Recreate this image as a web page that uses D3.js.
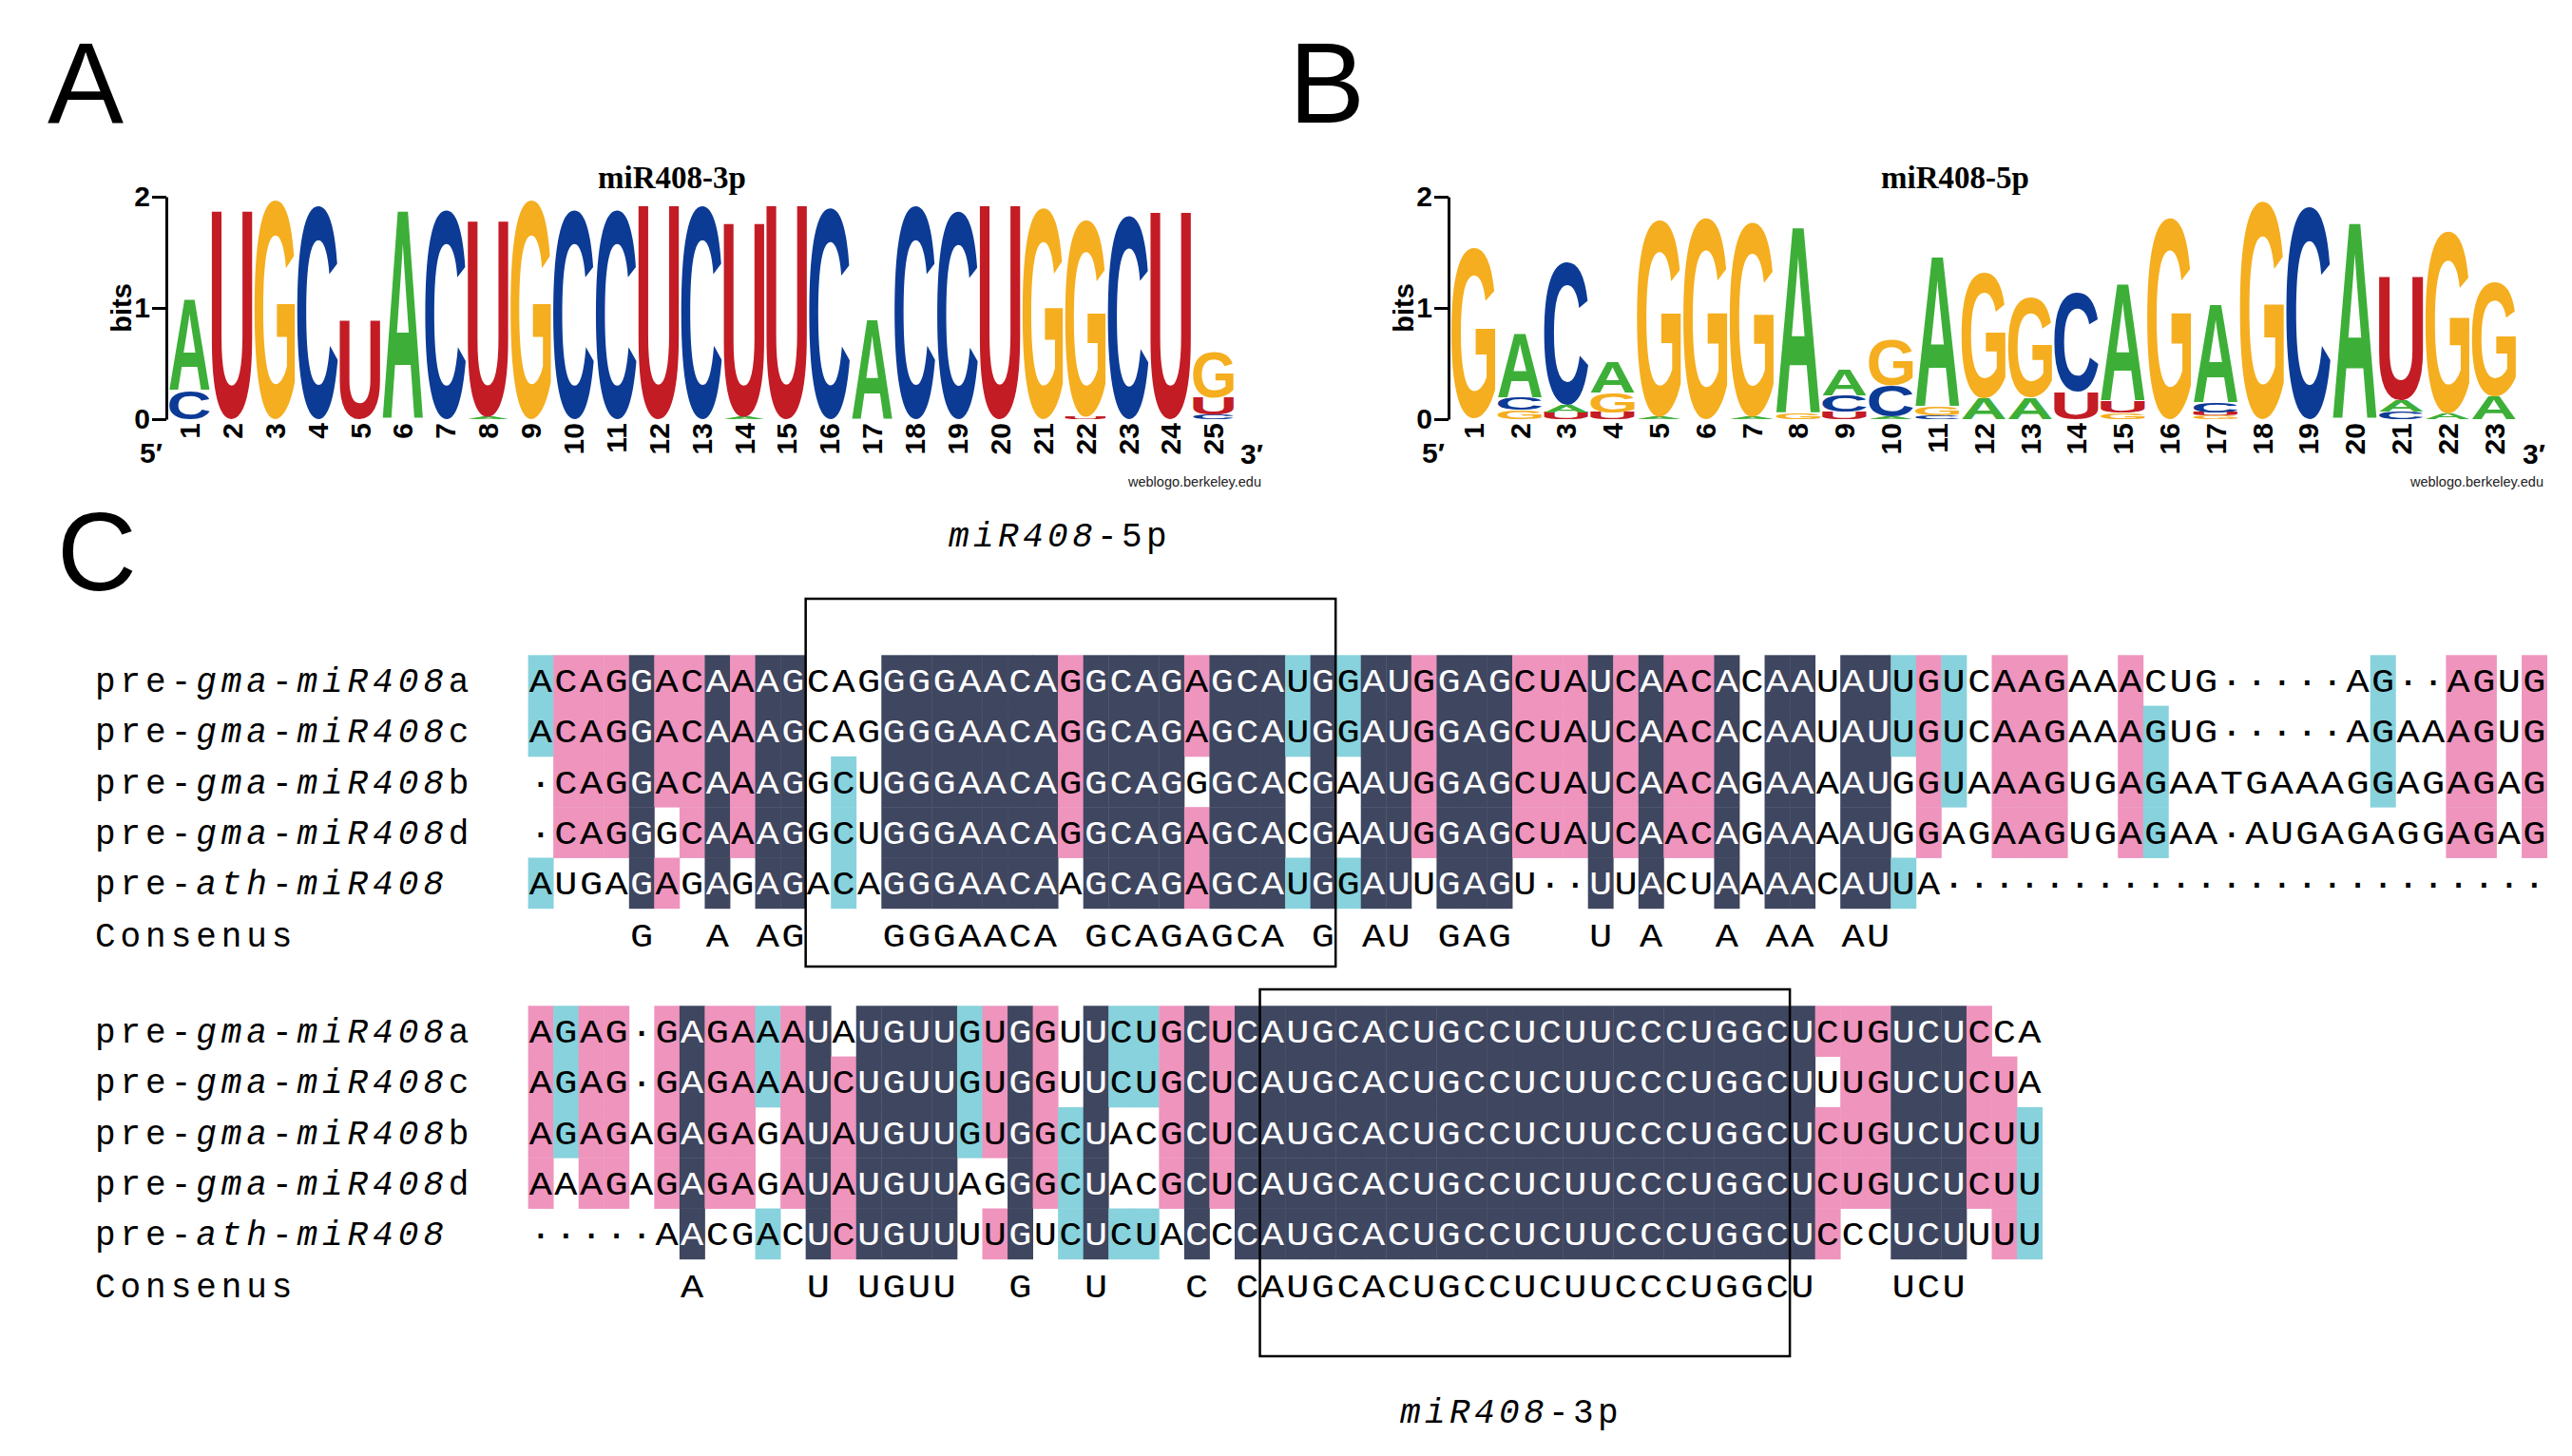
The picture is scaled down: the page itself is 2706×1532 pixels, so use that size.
<!DOCTYPE html>
<html>
<head>
<meta charset="utf-8">
<script src="https://cdn.jsdelivr.net/npm/d3@7/dist/d3.min.js"></script>
<style>
  body { margin: 0; background: #fff; }
</style>
</head>
<body>
<div id="figure"></div>
<script>
// ---------- panel A / B : weblogos (bits per base, stacked bottom -> top) ----------
const logo3pTitle = "miR408-3p";
const logo3p = [
  [["C", 0.26], ["A", 0.82]],
  [["U", 1.87]],
  [["G", 1.97]],
  [["C", 1.92]],
  [["U", 0.89]],
  [["A", 1.87]],
  [["C", 1.88]],
  [["A", 0.02], ["U", 1.76]],
  [["G", 1.97]],
  [["C", 1.88]],
  [["C", 1.88]],
  [["U", 1.92]],
  [["C", 1.92]],
  [["A", 0.02], ["U", 1.74]],
  [["U", 1.92]],
  [["C", 1.90]],
  [["A", 0.89]],
  [["C", 1.92]],
  [["C", 1.87]],
  [["U", 1.92]],
  [["G", 1.90]],
  [["U", 0.02], ["G", 1.77]],
  [["C", 1.83]],
  [["U", 1.86]],
  [["C", 0.04], ["U", 0.15], ["G", 0.42]]
];

const logo5pTitle = "miR408-5p";
const logo5p = [
  [["G", 1.53]],
  [["G", 0.08], ["C", 0.11], ["A", 0.57]],
  [["U", 0.06], ["A", 0.07], ["C", 1.28]],
  [["U", 0.06], ["G", 0.18], ["A", 0.28]],
  [["A", 0.02], ["G", 1.77]],
  [["G", 1.81]],
  [["A", 0.02], ["G", 1.75]],
  [["G", 0.05], ["A", 1.67]],
  [["U", 0.07], ["C", 0.14], ["A", 0.23]],
  [["A", 0.02], ["C", 0.28], ["G", 0.42]],
  [["C", 0.03], ["G", 0.08], ["A", 1.35]],
  [["A", 0.19], ["G", 1.13]],
  [["A", 0.19], ["G", 0.90]],
  [["U", 0.24], ["C", 0.89]],
  [["G", 0.06], ["U", 0.10], ["A", 1.05]],
  [["G", 1.81]],
  [["G", 0.03], ["U", 0.03], ["C", 0.09], ["A", 0.88]],
  [["G", 1.96]],
  [["C", 1.91]],
  [["A", 1.76]],
  [["C", 0.07], ["A", 0.10], ["U", 1.11]],
  [["A", 0.05], ["G", 1.64]],
  [["A", 0.21], ["G", 1.03]]
];

const bitTicks = [0, 1, 2];

// ---------- panel C : alignment ----------
const seqNames = [
  ["pre-", "gma", "-", "miR408", "a"],
  ["pre-", "gma", "-", "miR408", "c"],
  ["pre-", "gma", "-", "miR408", "b"],
  ["pre-", "gma", "-", "miR408", "d"],
  ["pre-", "ath", "-", "miR408", ""]
];
const consensusName = "Consenus";

const block1Seqs = [
  "ACAGGACAAAGCAGGGGAACAGGCAGAGCAUGGAUGGAGCUAUCAACACAAUAUUGUCAAGAAACUG·····AG··AGUG",
  "ACAGGACAAAGCAGGGGAACAGGCAGAGCAUGGAUGGAGCUAUCAACACAAUAUUGUCAAGAAAGUG·····AGAAAGUG",
  "·CAGGACAAAGGCUGGGAACAGGCAGGGCACGAAUGGAGCUAUCAACAGAAAAUGGUAAAGUGAGAATGAAAGGAGAGAG",
  "·CAGGGCAAAGGCUGGGAACAGGCAGAGCACGAAUGGAGCUAUCAACAGAAAAUGGAGAAGUGAGAA·AUGAGAGGAGAG",
  "AUGAGAGAGAGACAGGGAACAAGCAGAGCAUGGAUUGAGU··UUACUAAAACAUUA························"
];
// d = 100% (navy), p = pink, c = cyan, . = none
const block1Shade = [
  "cpppdppdpd" + "d...dddddd" + "dpddddpddd" + "cdcddpdddp" + "ppdpdppd.d" + "d.ddcpc.pp" + "p..p......" + "...c..pp.p",
  "cpppdppdpd" + "d...dddddd" + "dpddddpddd" + "cdcddpdddp" + "ppdpdppd.d" + "d.ddcpc.pp" + "p..pc....." + "...c..pp.p",
  ".pppdppdpd" + "d.c.dddddd" + "dpdddd.ddd" + ".d.ddpdddp" + "ppdpdppd.d" + "d.dd.pc.pp" + "p..pc....." + "...c..pp.p",
  ".pppd.pdpd" + "d.c.dddddd" + "dpddddpddd" + ".d.ddpdddp" + "ppdpdppd.d" + "d.dd.p..pp" + "p..pc....." + "......pp.p",
  "c...dp.d.d" + "d.c.dddddd" + "d.ddddpddd" + "cdcdd.ddd." + "..d.d..d.d" + "d.ddc....." + ".........." + ".........."
];
const block1Consensus = "    G  A AG   GGGAACA GCAGAGCA G AU GAG   U A  A AA AU";

const block2Seqs = [
  "AGAG·GAGAAAUAUGUUGUGGUUCUGCUCAUGCACUGCCUCUUCCCUGGCUCUGUCUCCA",
  "AGAG·GAGAAAUCUGUUGUGGUUCUGCUCAUGCACUGCCUCUUCCCUGGCUUUGUCUCUA",
  "AGAGAGAGAGAUAUGUUGUGGCUACGCUCAUGCACUGCCUCUUCCCUGGCUCUGUCUCUU",
  "AAAGAGAGAGAUAUGUUAGGGCUACGCUCAUGCACUGCCUCUUCCCUGGCUCUGUCUCUU",
  "·····AACGACUCUGUUUUGUCUCUACCCAUGCACUGCCUCUUCCCUGGCUCCCUCUUUU"
];
const block2Shade = [
  "pcpp.pdppc" + "pd.ddddcpd" + "p.dccpdpdd" + "dddddddddd" + "dddddddddd" + "dpppdddp..",
  "pcpp.pdppc" + "pdpddddcpd" + "p.dccpdpdd" + "dddddddddd" + "dddddddddd" + "d.ppdddpp.",
  "pcpp.pdpp." + "pdpddddcpd" + "pcd..pdpdd" + "dddddddddd" + "dddddddddd" + "dpppdddppc",
  "p.pp.pdpp." + "pdpdddd..d" + "pcd..pdpdd" + "dddddddddd" + "dddddddddd" + "dpppdddppc",
  "......d..c" + ".dpdddd.pd" + ".cdcc.d.dd" + "dddddddddd" + "dddddddddd" + "dp..ddd.pc"
];
const block2Consensus = "      A    U UGUU  G  U   C CAUGCACUGCCUCUUCCCUGGCU   UCU";

// mature miRNA columns boxed in each block
const matureBoxes = [
  {block: 1, from: 11, to: 31, name: "miR408", arm: "-5p"},
  {block: 2, from: 29, to: 49, name: "miR408", arm: "-3p"}
];

// ---------- styles ----------
const baseColors = {A: "#3DAF38", C: "#0C3B96", G: "#F5AE1F", U: "#C31C25"};
const shadeColors = {d: "#3F465F", p: "#EE94BD", c: "#87D2DC"};
const sans = "'Liberation Sans', Arial, Helvetica, sans-serif";
const serif = "'Liberation Serif', 'Times New Roman', serif";
const mono = "'Courier New', 'Liberation Mono', monospace";

const svg = d3.select("#figure").append("svg")
    .attr("width", 2706)
    .attr("height", 1532)
    .style("display", "block");

// ink boxes of the logo glyphs, so every letter can be stretched to its cell
const ctx = document.createElement("canvas").getContext("2d");
ctx.font = "bold 200px " + sans;
const glyph = {};
["A", "C", "G", "U"].forEach(ch => {
    let m = ctx.measureText(ch);
    glyph[ch] = {l: m.actualBoundingBoxLeft, r: m.actualBoundingBoxRight,
                 a: m.actualBoundingBoxAscent, d: m.actualBoundingBoxDescent};
});

// panel letters
[["A", 50, 129, 120], ["B", 1356, 129, 120], ["C", 60, 621, 116]].forEach(p => {
    svg.append("text")
        .attr("x", p[1]).attr("y", p[2])
        .attr("font-family", sans).attr("font-size", p[3])
        .text(p[0]);
});

function drawLogo(cols, title, x0, titleX) {
    let g = svg.append("g");

    let x = d3.scaleBand()
        .domain(d3.range(1, cols.length + 1))
        .range([x0, x0 + 1120])
        .paddingInner(0.05);

    let y = d3.scaleLinear()
        .domain([0, 2])
        .range([441, 207]);

    g.append("text")
        .attr("x", titleX).attr("y", 198)
        .attr("text-anchor", "middle")
        .attr("font-family", serif).attr("font-weight", "bold").attr("font-size", 33)
        .text(title);

    // y axis
    let axis = g.append("g")
        .attr("transform", "translate(" + (x0 - 3) + ",0)")
        .call(d3.axisLeft(y).tickValues(bitTicks).tickFormat(d3.format("d"))
            .tickSize(15).tickSizeOuter(0).tickPadding(2));
    axis.selectAll("path, line").attr("stroke", "#000").attr("stroke-width", 3);
    axis.selectAll("text")
        .attr("fill", "#000")
        .attr("font-family", sans).attr("font-weight", "bold").attr("font-size", 30);

    g.append("text")
        .attr("transform", "translate(" + (x0 - 40) + ",324) rotate(-90)")
        .attr("text-anchor", "middle")
        .attr("font-family", sans).attr("font-weight", "bold").attr("font-size", 29)
        .text("bits");

    // stacked letters
    cols.forEach((stack, i) => {
        let base = 0;
        stack.forEach(([ch, h]) => {
            let gb = glyph[ch];
            let x1 = x(i + 1), w = x.bandwidth();
            let yTop = y(base + h), hh = y(base) - y(base + h);
            let sx = w / (gb.l + gb.r), sy = hh / (gb.a + gb.d);
            g.append("text")
                .attr("transform", "translate(" + (x1 + gb.l * sx) + "," + (yTop + gb.a * sy) + ") scale(" + sx + "," + sy + ")")
                .attr("font-family", sans).attr("font-weight", "bold").attr("font-size", 200)
                .attr("fill", baseColors[ch])
                .text(ch);
            base += h;
        });
    });

    // position numbers
    g.selectAll(".pos")
        .data(cols)
        .enter().append("text")
        .attr("class", "pos")
        .attr("transform", (d, i) => "translate(" + (x(i + 1) + x.bandwidth() / 2 + 10.7) + ",445) rotate(-90)")
        .attr("text-anchor", "end")
        .attr("font-family", sans).attr("font-weight", "bold").attr("font-size", 30)
        .text((d, i) => i + 1);

    g.append("text")
        .attr("x", x0 - 31).attr("y", 487)
        .attr("font-family", sans).attr("font-weight", "bold").attr("font-size", 30)
        .text("5\u2032");
    g.append("text")
        .attr("x", x0 + 1127).attr("y", 488)
        .attr("font-family", sans).attr("font-weight", "bold").attr("font-size", 30)
        .text("3\u2032");
    g.append("text")
        .attr("x", x0 + 1149).attr("y", 512)
        .attr("text-anchor", "end")
        .attr("font-family", sans).attr("font-size", 14.5)
        .attr("fill", "#222")
        .text("weblogo.berkeley.edu");
}

drawLogo(logo3p, logo3pTitle, 178, 707);
drawLogo(logo5p, logo5pTitle, 1527, 2057);

// ---------- alignment ----------
const colX = d3.scaleBand()
    .domain(d3.range(80))
    .range([555.6, 555.6 + 80 * 26.55]);
const rowH = 53.3;
const blockTops = {1: 689.3, 2: 1058.3};

function drawBlock(top, seqs, shades, consensus) {
    let g = svg.append("g").attr("font-family", mono);

    let rowY = d3.scaleBand()
        .domain(d3.range(6))
        .range([top, top + 6 * rowH]);

    let cells = [];
    seqs.forEach((s, r) => Array.from(s).forEach((ch, c) => cells.push({r: r, c: c, ch: ch, shade: shades[r][c]})));

    g.selectAll(".cell")
        .data(cells.filter(d => d.shade !== "."))
        .enter().append("rect")
        .attr("class", "cell")
        .attr("x", d => colX(d.c))
        .attr("y", d => rowY(d.r))
        .attr("width", colX.bandwidth() + 0.4)
        .attr("height", rowY.bandwidth() + 0.4)
        .attr("fill", d => shadeColors[d.shade]);

    g.selectAll(".base")
        .data(cells)
        .enter().append("text")
        .attr("class", "base")
        .attr("transform", d => "translate(" + (colX(d.c) + colX.bandwidth() / 2) + "," + (rowY(d.r) + rowY.bandwidth() / 2 + 12) + ") scale(1.12,1)")
        .attr("text-anchor", "middle")
        .attr("font-size", 36)
        .attr("fill", d => d.shade === "d" ? "#fff" : "#000")
        .text(d => d.ch);

    g.selectAll(".cons")
        .data(Array.from(consensus).map((ch, c) => ({c: c, ch: ch})).filter(d => d.ch !== " "))
        .enter().append("text")
        .attr("class", "cons")
        .attr("transform", d => "translate(" + (colX(d.c) + colX.bandwidth() / 2) + "," + (rowY(5) + rowY.bandwidth() / 2 + 14) + ") scale(1.12,1)")
        .attr("text-anchor", "middle")
        .attr("font-size", 36)
        .text(d => d.ch);

    // row names
    let names = g.selectAll(".name")
        .data(seqNames)
        .enter().append("text")
        .attr("class", "name")
        .attr("x", 100)
        .attr("y", (d, i) => rowY(i) + rowY.bandwidth() / 2 + 12)
        .attr("font-size", 36)
        .attr("letter-spacing", 4.95);
    names.selectAll("tspan")
        .data(d => d)
        .enter().append("tspan")
        .attr("font-style", (d, i) => (i === 1 || i === 3) ? "italic" : "normal")
        .text(d => d);

    g.append("text")
        .attr("x", 100)
        .attr("y", rowY(5) + rowY.bandwidth() / 2 + 14)
        .attr("font-size", 36)
        .attr("letter-spacing", 4.95)
        .text(consensusName);

    return rowY;
}

drawBlock(blockTops[1], block1Seqs, block1Shade, block1Consensus);
drawBlock(blockTops[2], block2Seqs, block2Shade, block2Consensus);

// boxes round the mature miRNAs
const boxLayout = {1: {top: -59.3, bottom: 327.7, labelX: 1115, labelY: 575},
                   2: {top: -17.3, bottom: 368.7, labelX: 1590, labelY: 1497}};
matureBoxes.forEach(b => {
    let t = blockTops[b.block], l = boxLayout[b.block];
    svg.append("rect")
        .attr("x", colX(b.from))
        .attr("y", t + l.top)
        .attr("width", colX(b.to) + colX.bandwidth() - colX(b.from))
        .attr("height", l.bottom - l.top)
        .attr("fill", "none")
        .attr("stroke", "#000")
        .attr("stroke-width", 2.5);
    let lab = svg.append("text")
        .attr("x", l.labelX).attr("y", l.labelY)
        .attr("text-anchor", "middle")
        .attr("font-family", mono).attr("font-size", 36)
        .attr("letter-spacing", 4.4);
    lab.append("tspan").attr("font-style", "italic").text(b.name);
    lab.append("tspan").text(b.arm);
});
</script>
</body>
</html>
